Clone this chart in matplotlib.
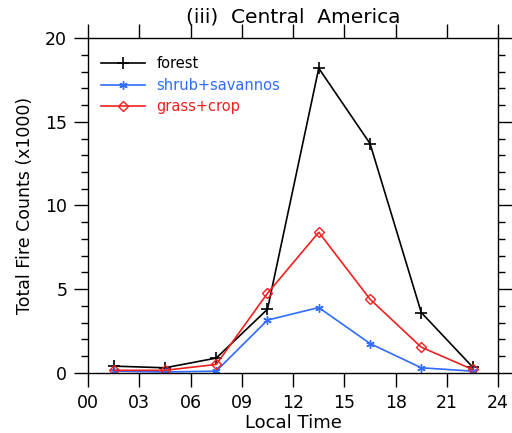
import matplotlib
matplotlib.use('Agg')
import matplotlib.pyplot as plt
from matplotlib.ticker import MultipleLocator

# Данные графика
hours = [1.5, 4.5, 7.5, 10.5, 13.5, 16.5, 19.5, 22.5]
forest = [0.4, 0.3, 0.88, 3.8, 18.2, 13.7, 3.6, 0.35]
shrub = [0.1, 0.05, 0.1, 3.15, 3.9, 1.75, 0.3, 0.1]
grass = [0.15, 0.15, 0.5, 4.75, 8.4, 4.4, 1.53, 0.2]
labels = ['forest', 'shrub+savannos', 'grass+crop']
xticklabels = ['00', '03', '06', '09', '12', '15', '18', '21', '24']

blue = '#2f6cff'
red = '#f02020'

fig = plt.figure(figsize=(5.12, 4.33), dpi=100)
ax = fig.add_axes([0.172, 0.139, 0.801, 0.773])

ax.plot(hours, forest, color='black', lw=1.2, marker='+', ms=8, mew=1.2, label=labels[0])
ax.plot(hours, shrub, color=blue, lw=1.2, marker=(6, 2, 0), ms=6, mew=1.0, label=labels[1])
ax.plot(hours, grass, color=red, lw=1.2, marker='D', ms=5, mew=1.0, mfc='none', label=labels[2])

ax.set_xlim(0, 24)
ax.set_ylim(0, 20)
ax.set_xticks(range(0, 25, 3))
ax.set_xticklabels(xticklabels)
ax.set_yticks([0, 5, 10, 15, 20])
ax.yaxis.set_minor_locator(MultipleLocator(1))

ax.tick_params(which='both', direction='out', top=True, right=True, labelsize=12.5, width=1)
ax.tick_params(which='major', length=10, pad=5)
ax.tick_params(which='minor', length=5)
for s in ax.spines.values():
    s.set_linewidth(1.0)

ax.set_title('(iii)  Central  America', fontsize=14.5, pad=11)
ax.set_xlabel('Local Time', fontsize=13, labelpad=2)
ax.set_ylabel('Total Fire Counts (x1000)', fontsize=12.5, labelpad=8)

leg = ax.legend(loc='upper left', frameon=False, fontsize=10.5, handlelength=3.0,
                handletextpad=0.8, labelspacing=0.45, borderaxespad=0.5,
                bbox_to_anchor=(0.0, 0.985))
for txt, c in zip(leg.get_texts(), ['black', blue, red]):
    txt.set_color(c)

plt.savefig('out.png', dpi=100)
